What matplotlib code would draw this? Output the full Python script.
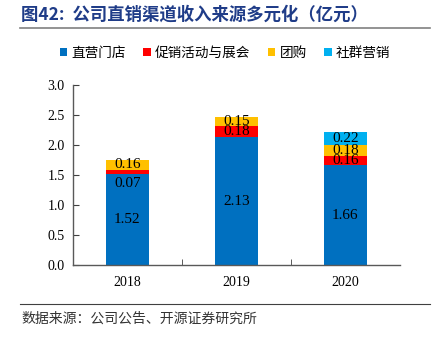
import matplotlib
matplotlib.use("Agg")
import matplotlib.pyplot as plt
from matplotlib.patches import Patch
from matplotlib.lines import Line2D
import numpy as np

years = ["2018", "2019", "2020"]
series_names = ["直营门店", "促销活动与展会", "团购", "社群营销"]
store = [1.52, 2.13, 1.66]
promo = [0.07, 0.18, 0.16]
group = [0.16, 0.15, 0.18]
social = [0.0, 0.0, 0.22]
colors = ["#0070C0", "#FF0000", "#FFC000", "#00B0F0"]
yticks = [0.0, 0.5, 1.0, 1.5, 2.0, 2.5, 3.0]

cjk = ["Noto Sans CJK SC", "DejaVu Sans"]
serif = ["Liberation Serif", "DejaVu Serif"]

fig = plt.figure(figsize=(4.37, 3.37), dpi=100)
ax = fig.add_axes([0.167, 0.2136, 0.748, 0.5344])

x = np.arange(len(years))
data = [store, promo, group, social]
bottom = np.zeros(len(years))
for vals, col in zip(data, colors):
    vals = np.array(vals)
    ax.bar(x, vals, width=0.4, bottom=bottom, color=col, zorder=2)
    for i, v in enumerate(vals):
        if v <= 0:
            continue
        yc = bottom[i] + v / 2
        if v < 0.1 and col == "#FF0000" and i == 0:
            yc = bottom[i] - 0.17
        ax.text(x[i], yc, f"{v:.2f}", ha="center", va="center",
                fontsize=11, family=serif, color="black", zorder=3)
    bottom += vals

ax.set_xlim(-0.5, 2.5)
ax.set_ylim(0, 3.0)
ax.set_yticks(yticks)
ax.set_yticklabels([f"{t:.1f}" for t in yticks], family=serif, fontsize=10)
ax.set_xticks(x)
ax.set_xticklabels(years, family=serif, fontsize=10)
ax.set_xticks([0.5, 1.5], minor=True)
ax.tick_params(axis="x", which="major", length=0, pad=8)
ax.tick_params(axis="x", which="minor", length=4, direction="in", color="#404040")
ax.tick_params(axis="y", length=4, direction="in", color="#404040", pad=6)
for s in ["top", "right"]:
    ax.spines[s].set_visible(False)
for s in ["left", "bottom"]:
    ax.spines[s].set_color("#595959")
    ax.spines[s].set_linewidth(1.0)

handles = [Patch(facecolor=c, edgecolor="none") for c in colors]
leg = fig.legend(handles, series_names, loc="center", bbox_to_anchor=(0.515, 0.843),
                 ncol=4, frameon=False, prop={"family": cjk, "size": 9.8},
                 handlelength=0.55, handleheight=0.55, handletextpad=0.3,
                 columnspacing=1.3)

fig.text(0.048, 0.957, "图42:  公司直销渠道收入来源多元化（亿元）", family=cjk,
         fontsize=12.5, fontweight="bold", color="#1F3C88", ha="left", va="center")
fig.add_artist(Line2D([0.046, 0.985], [0.918, 0.918], color="#808080", lw=1.2))
fig.add_artist(Line2D([0.046, 0.985], [0.098, 0.098], color="#404040", lw=0.8))
fig.text(0.048, 0.055, "数据来源：公司公告、开源证券研究所", family=cjk,
         fontsize=10, color="#333333", ha="left", va="center")

fig.savefig("out.png", dpi=100)
